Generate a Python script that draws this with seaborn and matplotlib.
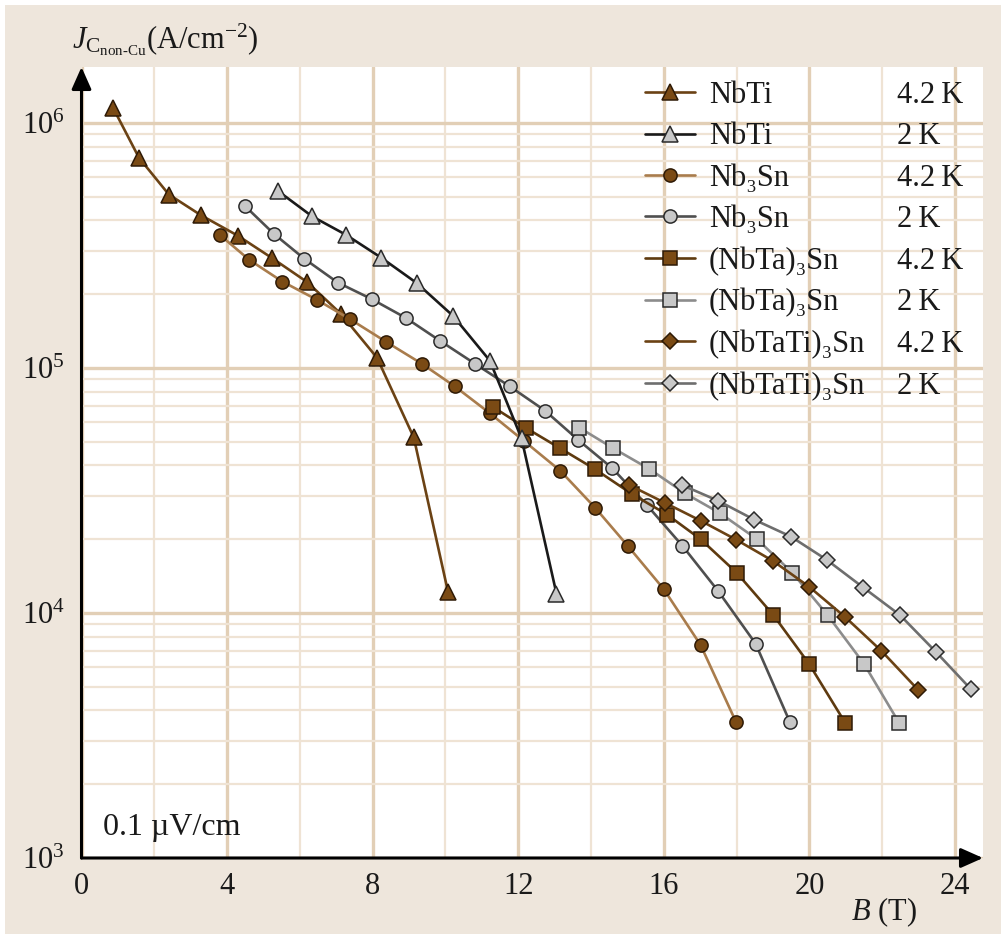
import matplotlib
matplotlib.use("Agg")
import matplotlib.pyplot as plt
from matplotlib.patches import Rectangle
from matplotlib.ticker import LogLocator, NullFormatter
import pandas as pd
import seaborn as sns

# B (T) and Jc non-Cu (A/cm^2)
nbti_42_b = [0.87, 1.58, 2.40, 3.28, 4.30, 5.23, 6.20, 7.13, 8.12, 9.13, 10.07]
nbti_42_j = [1.15e6, 7.2e5, 5.1e5, 4.2e5, 3.46e5, 2.81e5, 2.24e5, 1.66e5, 1.10e5, 5.2e4, 1.22e4]

nbti_2_b = [5.40, 6.34, 7.27, 8.23, 9.21, 10.21, 11.22, 12.09, 13.05]
nbti_2_j = [5.27e5, 4.15e5, 3.49e5, 2.82e5, 2.22e5, 1.63e5, 1.07e5, 5.16e4, 1.2e4]

nb3sn_42_b = [3.80, 4.61, 5.52, 6.46, 7.38, 8.36, 9.35, 10.26, 11.22, 12.16, 13.15,
              14.11, 15.02, 16.0, 17.01, 17.98]
nb3sn_42_j = [3.49e5, 2.76e5, 2.25e5, 1.90e5, 1.58e5, 1.28e5, 1.04e5, 8.4e4, 6.53e4, 5.03e4,
              3.81e4, 2.69e4, 1.87e4, 1.25e4, 7.4e3, 3.6e3]

nb3sn_2_b = [4.49, 5.29, 6.12, 7.04, 7.97, 8.91, 9.85, 10.81, 11.77, 12.73, 13.65, 14.58,
             15.53, 16.51, 17.49, 18.52, 19.46]
nb3sn_2_j = [4.58e5, 3.52e5, 2.79e5, 2.23e5, 1.91e5, 1.60e5, 1.29e5, 1.04e5, 8.4e4, 6.7e4,
             5.08e4, 3.9e4, 2.76e4, 1.88e4, 1.23e4, 7.5e3, 3.6e3]

nbta_42_b = [11.31, 12.20, 13.15, 14.11, 15.12, 16.09, 17.01, 18.0, 19.01, 19.99, 20.99]
nbta_42_j = [6.92e4, 5.7e4, 4.7e4, 3.86e4, 3.06e4, 2.52e4, 2.0e4, 1.46e4, 9.8e3, 6.2e3, 3.55e3]

nbta_2_b = [13.68, 14.61, 15.60, 16.58, 17.55, 18.56, 19.53, 20.50, 21.50, 22.46]
nbta_2_j = [5.7e4, 4.7e4, 3.87e4, 3.08e4, 2.55e4, 2.0e4, 1.46e4, 9.8e3, 6.2e3, 3.57e3]

nbtati_42_b = [15.04, 16.04, 17.01, 17.99, 19.0, 19.99, 20.99, 21.98, 22.99]
nbtati_42_j = [3.33e4, 2.81e4, 2.38e4, 1.99e4, 1.63e4, 1.28e4, 9.6e3, 7.0e3, 4.85e3]

nbtati_2_b = [16.49, 17.49, 18.49, 19.49, 20.47, 21.48, 22.49, 23.47, 24.43]
nbtati_2_j = [3.33e4, 2.87e4, 2.40e4, 2.05e4, 1.65e4, 1.27e4, 9.8e3, 6.95e3, 4.9e3]

materials = ["NbTi", "NbTi", "Nb\u2083Sn", "Nb\u2083Sn", "(NbTa)\u2083Sn", "(NbTa)\u2083Sn",
             "(NbTaTi)\u2083Sn", "(NbTaTi)\u2083Sn"]
temps = ["4.2\u2009K", "2\u2009K"] * 4
series_b = [nbti_42_b, nbti_2_b, nb3sn_42_b, nb3sn_2_b, nbta_42_b, nbta_2_b, nbtati_42_b, nbtati_2_b]
series_j = [nbti_42_j, nbti_2_j, nb3sn_42_j, nb3sn_2_j, nbta_42_j, nbta_2_j, nbtati_42_j, nbtati_2_j]

# styling per series: line colour, marker, marker face, drawing order
BROWN = "#7a4a14"
GREY = "#c8c8c8"
line_colors = ["#6b4214", "#1a1a1a", "#a97c4c", "#4f4f4f", "#5e3a0f", "#8c8c8c", "#6b4214", "#6e6e6e"]
markers = ["^", "^", "o", "o", "s", "s", "D", "D"]
msizes = [11, 11, 9.5, 9.5, 10, 10, 8.5, 8.5]
faces = [BROWN, GREY] * 4
edges = ["#2e1a06", "#2a2a2a"] * 4
zorders = [3.0, 3.9, 3.2, 3.3, 3.4, 3.5, 3.6, 3.7]

sns.set_theme(style="white")
plt.rcParams["font.family"] = ["Liberation Serif", "DejaVu Serif"]
plt.rcParams["mathtext.fontset"] = "custom"
plt.rcParams["mathtext.rm"] = "Liberation Serif"
plt.rcParams["mathtext.it"] = "Liberation Serif:italic"
plt.rcParams["mathtext.bf"] = "Liberation Serif:bold"

FS = 22
W, H = 1007, 939
fig = plt.figure(figsize=(W / 100, H / 100), dpi=100, facecolor="white")
fig.patches.append(Rectangle((5 / W, 5 / H), 996 / W, 929 / H, transform=fig.transFigure,
                             facecolor="#eee6dc", edgecolor="none", zorder=-10))
ax = fig.add_axes([81.5 / W, 81 / H, 901.5 / W, 791 / H])
ax.set_facecolor("white")

for i in range(len(materials)):
    df = pd.DataFrame({"B": series_b[i], "J": series_j[i]})
    sns.lineplot(data=df, x="B", y="J", ax=ax, sort=False, estimator=None,
                 color=line_colors[i], lw=1.9, marker=markers[i], markersize=msizes[i],
                 markerfacecolor=faces[i], markeredgecolor=edges[i], markeredgewidth=1.1,
                 label=materials[i], zorder=zorders[i])

ax.set_yscale("log")
ax.set_xlim(0, 24.77)
ax.set_ylim(1e3, 1.69e6)

ax.set_xticks([0, 4, 8, 12, 16, 20, 24])
ax.set_xticks([2, 6, 10, 14, 18, 22], minor=True)
ax.set_yticks([1e3, 1e4, 1e5, 1e6], labels=["10$^3$", "10$^4$", "10$^5$", "10$^6$"])
ax.yaxis.set_minor_locator(LogLocator(base=10, subs=range(2, 10)))
ax.yaxis.set_minor_formatter(NullFormatter())
ax.tick_params(which="both", length=0, labelsize=FS, colors="#1a1a1a")
ax.tick_params(axis="x", pad=10)
ax.tick_params(axis="y", pad=12)

ax.grid(which="major", color="#e2cfb6", lw=2.4, zorder=0)
ax.grid(which="minor", color="#efe3d4", lw=1.6, zorder=0)
ax.set_axisbelow(True)
for s in ax.spines.values():
    s.set_visible(False)
ax.set_xlabel("")
ax.set_ylabel("")

# axes drawn as arrows
arrow = dict(arrowstyle="-|>,head_length=0.45,head_width=0.2", color="black", lw=2.2,
             mutation_scale=30, shrinkA=0, shrinkB=0)
ax.annotate("", xy=(0, 1), xytext=(0, 0), xycoords="axes fraction", arrowprops=arrow)
ax.annotate("", xy=(1, 0), xytext=(0, 0), xycoords="axes fraction", arrowprops=arrow)

ax.text(0.6, 1.33e3, "0.1 \u00b5V/cm", fontsize=FS + 1, va="center", ha="left", color="#1a1a1a")

ylab = "$J_{\\mathrm{C}_{\\mathrm{non\u2010Cu}}}$(A/cm$^{-2}$)"
fig.text(72 / W, 1 - 40 / H, ylab, fontsize=FS, ha="left", va="center", color="#1a1a1a")
fig.text(917 / W, 1 - 912 / H, "$B$ (T)", fontsize=FS, ha="right", va="center", color="#1a1a1a")

leg = ax.legend(loc="upper left", bbox_to_anchor=(645 / W, 1 - 81 / H), bbox_transform=fig.transFigure,
                frameon=False, fontsize=FS, borderpad=0, borderaxespad=0, handlelength=1.64,
                handletextpad=0.45, labelspacing=0.405)
for t in leg.get_texts():
    t.set_color("#1a1a1a")

# second legend column with the temperatures, aligned to the legend rows
fig.canvas.draw()
inv = fig.transFigure.inverted()
for txt, temp in zip(leg.get_texts(), temps):
    bb = txt.get_window_extent()
    y = inv.transform((0, bb.y0))[1]
    fig.text(897 / W, y, temp, fontsize=FS, ha="left", va="bottom", color="#1a1a1a")

fig.savefig("out.png", dpi=100, facecolor="white")
